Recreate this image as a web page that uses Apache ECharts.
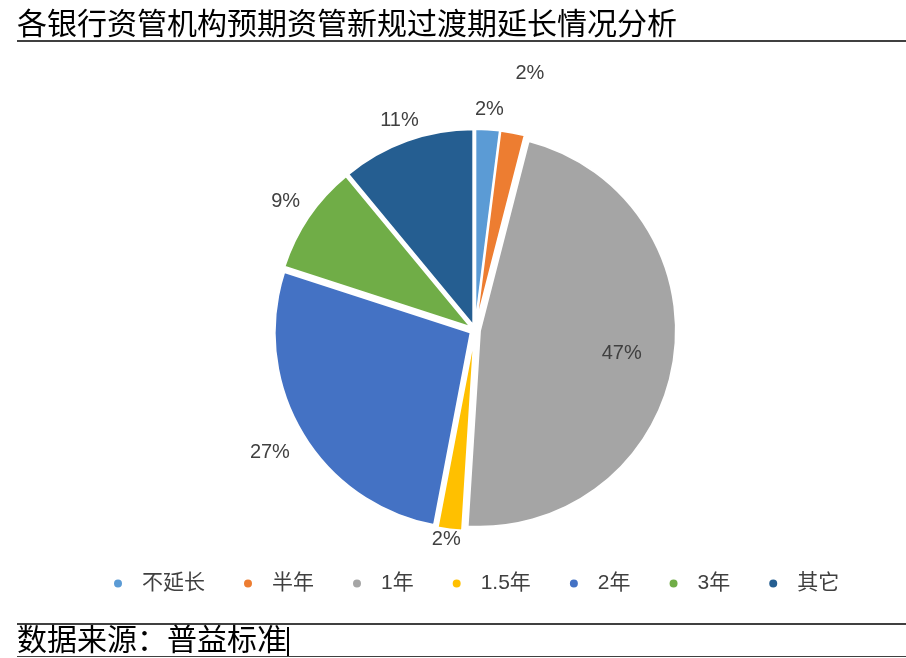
<!DOCTYPE html>
<html>
<head>
<meta charset="utf-8">
<script src="https://cdn.jsdelivr.net/npm/echarts@6/dist/echarts.min.js"></script>
<style>
html,body{margin:0;padding:0;background:#fff;}
#chart{width:906px;height:658px;}
</style>
</head>
<body>
<div id="chart"></div>
<script>
var titleText = '各银行资管机构预期资管新规过渡期延长情况分析';
var sourceText = '数据来源：普益标准';
var categories = ['不延长', '半年', '1年', '1.5年', '2年', '3年', '其它'];
var values = [2, 2, 47, 2, 27, 9, 11];
var colors = ['#5B9BD5', '#ED7D31', '#A5A5A5', '#FFC000', '#4472C4', '#70AD47', '#255E91'];
var insideLabelCategories = ['1年'];

var latin = "'Liberation Sans', 'Noto Sans CJK SC', sans-serif";
var cjk = "'Noto Sans CJK SC', sans-serif";
var center = [475, 330];
var R = 196;

var mainData = categories.map(function (c, i) {
  return { name: c, value: values[i], selected: true, itemStyle: { color: colors[i] } };
});
var outerLabelData = categories.map(function (c, i) {
  var item = { name: c, value: values[i] };
  if (insideLabelCategories.indexOf(c) >= 0) item.label = { show: false };
  if (c === '半年') item.label = { offset: [12, -32] };
  if (c === '不延长') item.label = { offset: [0, 8] };
  if (c === '1.5年') item.label = { offset: [0, -18] };
  if (c === '2年') item.label = { offset: [-8, 6] };
  if (c === '其它') item.label = { offset: [2, 6] };
  return item;
});
var innerLabelData = categories.map(function (c, i) {
  var item = { name: c, value: values[i] };
  if (insideLabelCategories.indexOf(c) < 0) item.label = { show: false };
  return item;
});

var labelStyle = {
  show: true,
  position: 'inside',
  formatter: '{d}%',
  color: '#404040',
  fontSize: 20,
  fontFamily: latin
};

var chart = echarts.init(document.getElementById('chart'), null, { renderer: 'canvas' });
chart.setOption({
  animation: false,
  backgroundColor: '#ffffff',
  legend: {
    data: categories,
    top: 568,
    left: 107,
    icon: 'circle',
    itemWidth: 10,
    itemHeight: 10,
    itemGap: 37,
    selectedMode: false,
    textStyle: { color: '#404040', fontSize: 21, fontFamily: latin, padding: [0, 0, 0, 14] }
  },
  graphic: [
    { type: 'text', left: 17, top: 8, style: { text: titleText, fontSize: 30, fontFamily: cjk, fill: '#000' } },
    { type: 'rect', shape: { x: 17, y: 40, width: 889, height: 2 }, style: { fill: '#404040' } },
    { type: 'rect', shape: { x: 17, y: 623, width: 889, height: 2 }, style: { fill: '#404040' } },
    { type: 'rect', shape: { x: 17, y: 656, width: 889, height: 1 }, style: { fill: '#404040' } },
    { type: 'text', left: 17, top: 624, style: { text: sourceText, fontSize: 30, fontFamily: cjk, fill: '#000' } },
    { type: 'rect', shape: { x: 287, y: 627, width: 2, height: 29 }, style: { fill: '#000' } }
  ],
  series: [
    {
      type: 'pie',
      center: center,
      radius: [0, R],
      startAngle: 90,
      clockwise: true,
      selectedMode: 'multiple',
      selectedOffset: 5,
      label: { show: false },
      labelLine: { show: false },
      itemStyle: { borderColor: '#ffffff', borderWidth: 2 },
      emphasis: { disabled: true },
      data: mainData
    },
    {
      type: 'pie',
      silent: true,
      center: center,
      radius: [R, R + 60],
      startAngle: 90,
      clockwise: true,
      itemStyle: { color: 'rgba(0,0,0,0)' },
      label: labelStyle,
      labelLine: { show: false },
      emphasis: { disabled: true },
      data: outerLabelData
    },
    {
      type: 'pie',
      silent: true,
      center: center,
      radius: [95, R],
      startAngle: 90,
      clockwise: true,
      itemStyle: { color: 'rgba(0,0,0,0)' },
      label: labelStyle,
      labelLine: { show: false },
      emphasis: { disabled: true },
      data: innerLabelData
    }
  ]
});
</script>
</body>
</html>
